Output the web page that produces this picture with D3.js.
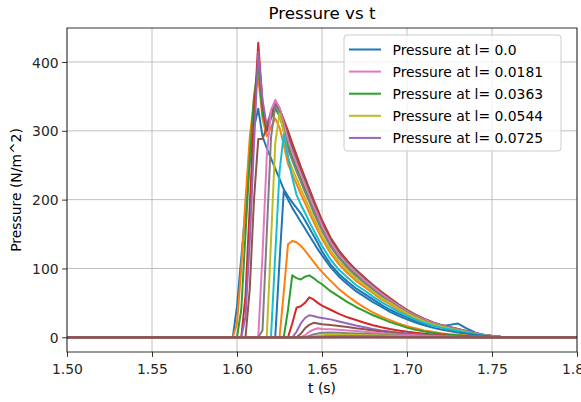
<!DOCTYPE html>
<html><head><meta charset="utf-8">
<script src="https://cdn.jsdelivr.net/npm/d3@7"></script>
<style>
body{margin:0;background:#fff;}
svg{display:block;font-family:"DejaVu Sans",sans-serif;}
</style></head>
<body>
<svg id="c" width="581" height="402"></svg>
<script>
const times = [1.50, 1.5975, 1.60, 1.6025, 1.605, 1.6075, 1.61, 1.6125, 1.615, 1.6175, 1.62, 1.6225, 1.625, 1.6275, 1.63, 1.6325, 1.635, 1.6375, 1.64, 1.6425, 1.645, 1.6475, 1.65, 1.655, 1.66, 1.665, 1.67, 1.675, 1.68, 1.685, 1.69, 1.695, 1.70, 1.705, 1.71, 1.715, 1.72, 1.725, 1.73, 1.735, 1.74, 1.745, 1.75, 1.755, 1.76, 1.765, 1.77, 1.80];

const p00 = [0,0,45,115,185,255,305,332,292,275,260,245,230,215,205,196,188,180,170,159,148,137,125,106,92,81,71,63,55,47,40,34,29,24,20,17,16,18,20,13,7,3.5,1.6,0.7,0.3,0,0,0];
const p01 = [0,0,20,100,200,290,345,378,318,292,305,318,305,280,252,237,223,208,195,181,168,155,143,122,106,93,82,73,64,55,48,40,33.6,27.7,22.7,18.5,15.1,12.6,10.1,7.6,5,2.9,1.5,0.7,0.3,0,0,0];
const p02 = [0,0,0,40,150,260,350,395,325,300,318,332,322,302,279,262,246,231,216,201,186,172,158,135,117,103,91,81,71,61,53,44.6,37.2,30.7,25.1,20.5,16.7,14,11.2,8.4,5.6,3.3,1.7,0.7,0.3,0,0,0];
const p03 = [0,0,0,0,60,190,320,428,340,300,322,338,332,316,300,282,265,248,232,216,200,185,170,145,126,111,98,87,76,66,57,48,40,33,27,22,18,15,12,9,6,3.5,1.8,0.8,0.3,0,0,0];
const p04 = [0,0,0,0,30,140,280,415,345,308,328,342,333,312,291,274,257,241,225,210,194,179,165,141,122,108,95,84,74,64,55,46.6,38.8,32,26.2,21.3,17.5,14.6,11.6,8.7,5.8,3.4,1.7,0.8,0.3,0,0,0];
const p05 = [0,0,0,0,0,70,200,288,288,305,322,337,330,314,296,278,261,244,229,213,197,182,167,143,124,109,97,86,75,65,56,47,39,32.5,26.6,21.7,17.7,14.8,11.8,8.9,5.9,3.4,1.8,0.8,0.3,0,0,0];
const p06 = [0,0,0,0,0,0,0,0,120,262,330,345,334,310,287,269,253,237,222,206,191,177,162,138,120,106,94,83,73,63,54,46,38,31.5,25.8,21,17.2,14.3,11.5,8.6,5.7,3.3,1.7,0.8,0.3,0,0,0];
const p07 = [0,0,0,0,0,0,0,0,10,150,290,336,328,300,273,257,241,226,211,197,182,168,155,132,115,101,89,79,69,60,52,43.7,36.4,30,24.6,20,16.4,13.7,10.9,8.2,5.5,3.2,1.6,0.7,0.3,0,0,0];
const p08 = [0,0,0,0,0,0,0,0,0,0,140,282,325,298,261,245,231,216,202,188,174,161,148,126,110,97,85,76,66,57,50,42,35,28.7,23.5,19.1,15.7,13,10.4,7.8,5.2,3,1.6,0.7,0.3,0,0,0];
const p09 = [0,0,0,0,0,0,0,0,0,0,0,120,240,295,262,232,207,193,181,168,156,144,133,113,98,87,76,68,59,51,44,37,31,25.7,21,17.2,14,11.7,9.4,7,4.7,2.7,1.4,0.6,0.2,0,0,0];
const p10 = [0,0,0,0,0,0,0,0,0,0,0,0,110,212,200,188,178,168,158,148,138,128,119,102,88,77,67,59,51,44,37,31,26,21.5,17.5,14,11.3,9,7,5.2,3.5,2.2,1.1,0.5,0.2,0,0,0];
const p11 = [0,0,0,0,0,0,0,0,0,0,0,0,0,65,135,140,138,133,126,118,110,102,95,82,70,60,51,43,36,30,25,20,16,13,10,8,6,4.5,3.5,2.5,1.5,0.8,0.4,0.2,0,0,0,0];
const p12 = [0,0,0,0,0,0,0,0,0,0,0,0,0,0,40,90,86,84,88,90,86,81,77,67,59,51,44,38,32,27,22,18,14,11,8.5,6.5,5,3.8,2.8,2,1.3,0.7,0.3,0.1,0,0,0,0];
const p13 = [0,0,0,0,0,0,0,0,0,0,0,0,0,0,0,20,43,45,50,58,55,50,46,40,34,29,25,21,17.5,14.5,12,10,8,6.5,5,4,3,2.2,1.6,1.1,0.7,0.4,0.2,0,0,0,0,0];
const p14 = [0,0,0,0,0,0,0,0,0,0,0,0,0,0,0,0,8,20,28,32,31,29,28,26,23,20,17,14.5,12,10,8.3,6.8,5.5,4.4,3.5,2.7,2.1,1.6,1.2,0.8,0.5,0.3,0.1,0,0,0,0,0];
const p15 = [0,0,0,0,0,0,0,0,0,0,0,0,0,0,0,0,0,5,13,18,21,20,19,18,16.5,15,13,11.5,10,8.5,7,5.8,4.7,3.8,3,2.4,1.8,1.4,1,0.7,0.4,0.2,0,0,0,0,0,0];
const p16 = [0,0,0,0,0,0,0,0,0,0,0,0,0,0,0,0,0,0,3,8,11,13,12,11.5,11,10,9,8,7,6,5,4.2,3.5,2.8,2.2,1.7,1.3,1,0.7,0.5,0.3,0.1,0,0,0,0,0,0];
const p17 = [0,0,0,0,0,0,0,0,0,0,0,0,0,0,0,0,0,0,0,2,4,5.5,6.5,7,6.5,6,5.5,5,4.4,3.8,3.2,2.7,2.2,1.8,1.4,1.1,0.8,0.6,0.4,0.3,0.1,0,0,0,0,0,0,0];
const p18 = [0,0,0,0,0,0,0,0,0,0,0,0,0,0,0,0,0,0,0,0,1,2,3,3.5,3.8,3.6,3.4,3.1,2.8,2.5,2.1,1.8,1.5,1.2,1,0.8,0.6,0.4,0.3,0.2,0.1,0,0,0,0,0,0,0];
const p19 = [0,0,0,0,0,0,0,0,0,0,0,0,0,0,0,0,0,0,0,0,0,0.5,1,1.5,1.8,1.9,1.8,1.7,1.5,1.3,1.1,1,0.8,0.6,0.5,0.4,0.3,0.2,0.1,0,0,0,0,0,0,0,0,0];
const p20 = [0,0,0,0,0,0,0,0,0,0,0,0,0,0,0,0,0,0,0,0,0,0,0.3,0.6,0.8,0.9,0.9,0.8,0.7,0.6,0.5,0.4,0.3,0.2,0.1,0,0,0,0,0,0,0,0,0,0,0,0,0];
const p21 = [0,0,0,0,0,0,0,0,0,0,0,0,0,0,0,0,0,0,0,0,0,0,0,0.2,0.3,0.4,0.4,0.35,0.3,0.2,0.15,0.1,0,0,0,0,0,0,0,0,0,0,0,0,0,0,0,0];
const p22 = [0,0,0,0,0,0,0,0,0,0,0,0,0,0,0,0,0,0,0,0,0,0,0,0,0.1,0.2,0.2,0.2,0.15,0.1,0.05,0,0,0,0,0,0,0,0,0,0,0,0,0,0,0,0,0];
const p23 = [0,0,0,0,0,0,0,0,0,0,0,0,0,0,0,0,0,0,0,0,0,0,0,0,0,0.05,0.1,0.1,0.08,0.05,0,0,0,0,0,0,0,0,0,0,0,0,0,0,0,0,0,0];
const p24 = [0,0,0,0,0,0,0,0,0,0,0,0,0,0,0,0,0,0,0,0,0,0,0,0,0,0,0,0,0,0,0,0,0,0,0,0,0,0,0,0,0,0,0,0,0,0,0,0];
const p25 = [0,0,0,0,0,0,0,0,0,0,0,0,0,0,0,0,0,0,0,0,0,0,0,0,0,0,0,0,0,0,0,0,0,0,0,0,0,0,0,0,0,0,0,0,0,0,0,0];

const legendSeries = [0, 6, 12, 18, 24];
const legendLabels = ["Pressure at l= 0.0", "Pressure at l= 0.0181", "Pressure at l= 0.0363", "Pressure at l= 0.0544", "Pressure at l= 0.0725"];
const xTicks = [1.50, 1.55, 1.60, 1.65, 1.70, 1.75, 1.80];
const yTicks = [0, 100, 200, 300, 400];
const titleText = "Pressure vs t";
const xLabel = "t (s)";
const yLabel = "Pressure (N/m^2)";

const series = [p00,p01,p02,p03,p04,p05,p06,p07,p08,p09,p10,p11,p12,p13,p14,p15,p16,p17,p18,p19,p20,p21,p22,p23,p24,p25];
const palette = ["#1f77b4","#ff7f0e","#2ca02c","#d62728","#9467bd","#8c564b","#e377c2","#7f7f7f","#bcbd22","#17becf"];

const L = 67, R = 577, T = 28, B = 352;
const svg = d3.select("#c");
const x = d3.scaleLinear().domain([1.5, 1.8]).range([L, R]);
const y = d3.scaleLinear().domain([-21.4, 449.4]).range([B, T]);
const FS = 13.9;

const g = svg.append("g");
g.selectAll("line.gx").data(xTicks).enter().append("line")
  .attr("x1", d => x(d)).attr("x2", d => x(d)).attr("y1", T).attr("y2", B)
  .attr("stroke", "#b0b0b0").attr("stroke-width", 0.8);
g.selectAll("line.gy").data(yTicks).enter().append("line")
  .attr("x1", L).attr("x2", R).attr("y1", d => y(d)).attr("y2", d => y(d))
  .attr("stroke", "#b0b0b0").attr("stroke-width", 0.8);

svg.append("defs").append("clipPath").attr("id", "clip")
  .append("rect").attr("x", L).attr("y", T).attr("width", R - L).attr("height", B - T);

const line = d3.line().x((d, i) => x(times[i])).y(d => y(d));
svg.append("g").attr("clip-path", "url(#clip)")
  .selectAll("path").data(series).enter().append("path")
  .attr("d", d => line(d))
  .attr("fill", "none")
  .attr("stroke", (d, i) => palette[i % 10])
  .attr("stroke-width", 2)
  .attr("stroke-linejoin", "round")
  .attr("stroke-linecap", "square");

const xAxis = d3.axisBottom(x).tickValues(xTicks).tickFormat(d3.format(".2f")).tickSizeOuter(0).tickSize(4.9).tickPadding(3.5);
const yAxis = d3.axisLeft(y).tickValues(yTicks).tickFormat(d3.format("d")).tickSizeOuter(0).tickSize(4.9).tickPadding(3.5);
const gx = svg.append("g").attr("transform", `translate(0,${B})`).call(xAxis);
const gy = svg.append("g").attr("transform", `translate(${L},0)`).call(yAxis);
[gx, gy].forEach(a => {
  a.select(".domain").remove();
  a.selectAll(".tick line").attr("stroke", "#000").attr("stroke-width", 0.8);
  a.selectAll(".tick text").attr("fill", "#262626").style("font-size", FS + "px").style("font-family", "DejaVu Sans");
});
gx.selectAll(".tick text").attr("dy", "0.95em");
gy.selectAll(".tick text").attr("dy", "0.36em");

svg.append("rect").attr("x", L).attr("y", T).attr("width", R - L).attr("height", B - T)
  .attr("fill", "none").attr("stroke", "#000").attr("stroke-width", 0.8);

svg.append("text").attr("x", (L + R) / 2).attr("y", 19).attr("text-anchor", "middle")
  .style("font-size", "16.7px").attr("fill", "#000").text(titleText);
svg.append("text").attr("x", (L + R) / 2).attr("y", 393).attr("text-anchor", "middle")
  .style("font-size", FS + "px").attr("fill", "#000").text(xLabel);
svg.append("text").attr("transform", `translate(20.5,${(T + B) / 2}) rotate(-90)`).attr("text-anchor", "middle")
  .style("font-size", FS + "px").attr("fill", "#000").text(yLabel);

const lg = svg.append("g");
lg.append("rect").attr("x", 344).attr("y", 35).attr("width", 217).attr("height", 116)
  .attr("rx", 3).attr("fill", "#fff").attr("fill-opacity", 0.8)
  .attr("stroke", "#cccccc").attr("stroke-width", 1);
legendSeries.forEach((si, k) => {
  const cy = 49.5 + k * 22.1;
  lg.append("line").attr("x1", 349).attr("x2", 381).attr("y1", cy).attr("y2", cy)
    .attr("stroke", palette[si % 10]).attr("stroke-width", 2);
  lg.append("text").attr("x", 392.5).attr("y", cy + 5).style("font-size", FS + "px")
    .attr("fill", "#000").text(legendLabels[k]);
});
</script>
</body></html>
